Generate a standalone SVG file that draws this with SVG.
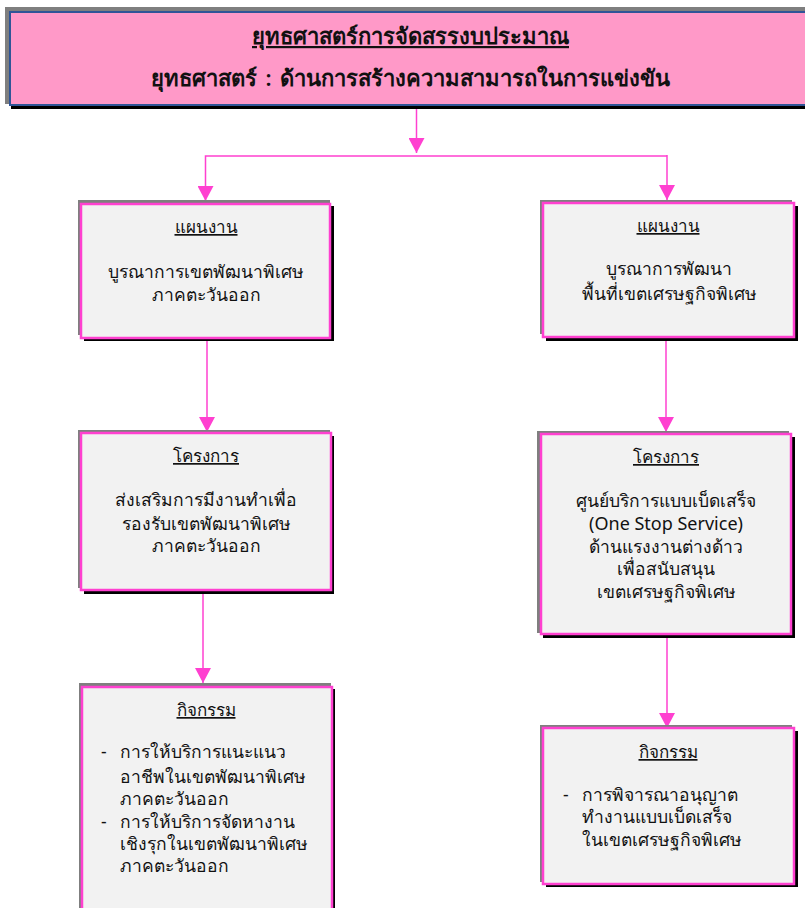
<svg xmlns="http://www.w3.org/2000/svg" width="805" height="908" viewBox="0 0 805 908">
<style>
text{font-family:"Noto Sans","DejaVu Sans","Liberation Sans",sans-serif;fill:#111;text-anchor:middle}
.t{font-size:22px;font-weight:600}
.b{font-size:17.500px}
.h{font-size:17px;text-decoration:underline}
.l{text-anchor:start}
.g{fill:#7f7f7f}
.k{fill:#000}
.f{fill:#f2f2f2;stroke:#ff40d0;stroke-width:2.5}
.c{fill:none;stroke:#ff40d0;stroke-width:1.5}
</style>
<defs>
<marker id="a" markerUnits="userSpaceOnUse" markerWidth="16" markerHeight="16" refX="15" refY="8" orient="auto"><path d="M0 0L15 8L0 16Z" fill="#ff40d0"/></marker>
</defs>
<g id="top">
<rect class="g" x="5" y="7" width="800" height="97"/><rect class="k" x="11" y="14" width="794" height="95"/>
<rect x="10" y="12" width="800" height="93" fill="#ff99c8" stroke="#2f5597" stroke-width="2"/>
<text class="t" x="410.500" y="44" text-decoration="underline">ยุทธศาสตร์การจัดสรรงบประมาณ</text>
<text class="t" x="410.500" y="86" word-spacing="2.500">ยุทธศาสตร์ : ด้านการสร้างความสามารถในการแข่งขัน</text>
</g>
<g id="connectors">
<path class="c" d="M416.500 109V153" marker-end="url(#a)"/>
<path class="c" d="M667 156H205.500V201" marker-end="url(#a)"/>
<path class="c" d="M667 155V200" marker-end="url(#a)"/>
<path class="c" d="M207 339V432" marker-end="url(#a)"/>
<path class="c" d="M666 337V432" marker-end="url(#a)"/>
<path class="c" d="M203 590V683" marker-end="url(#a)"/>
<path class="c" d="M667 636V728" marker-end="url(#a)"/>
</g>
<g id="plan-left">
<rect class="g" x="78" y="200" width="252" height="135"/><rect class="k" x="84" y="206" width="250" height="135"/>
<rect class="f" x="81" y="204" width="249" height="134"/>
<text class="h" x="206" y="233">แผนงาน</text>
<text class="b" x="206" y="278">บูรณาการเขตพัฒนาพิเศษ</text>
<text class="b" x="206" y="301">ภาคตะวันออก</text>
</g>
<g id="plan-right">
<rect class="g" x="540" y="200" width="252" height="134"/><rect class="k" x="546" y="206" width="252" height="135"/>
<rect class="f" x="543" y="203" width="251" height="134"/>
<text class="h" x="668" y="232">แผนงาน</text>
<text class="b" x="669" y="275">บูรณาการพัฒนา</text>
<text class="b" x="669" y="300">พื้นที่เขตเศรษฐกิจพิเศษ</text>
</g>
<g id="project-left">
<rect class="g" x="78" y="430" width="252" height="158"/><rect class="k" x="84" y="436" width="250" height="158"/>
<rect class="f" x="81" y="433" width="250" height="157"/>
<text class="h" x="206" y="462">โครงการ</text>
<text class="b" x="206" y="506">ส่งเสริมการมีงานทำเพื่อ</text>
<text class="b" x="206" y="530">รองรับเขตพัฒนาพิเศษ</text>
<text class="b" x="206" y="552">ภาคตะวันออก</text>
</g>
<g id="project-right">
<rect class="g" x="537" y="431" width="252" height="202"/><rect class="k" x="543" y="437" width="252" height="201"/>
<rect class="f" x="541" y="434" width="250" height="200"/>
<text class="h" x="666" y="463">โครงการ</text>
<text class="b" x="666" y="507">ศูนย์บริการแบบเบ็ดเสร็จ</text>
<text class="b" x="666" y="530" style="font-size:18px">(One Stop Service)</text>
<text class="b" x="666" y="553">ด้านแรงงานต่างด้าว</text>
<text class="b" x="666" y="575">เพื่อสนับสนุน</text>
<text class="b" x="666" y="598">เขตเศรษฐกิจพิเศษ</text>
</g>
<g id="activity-left">
<rect class="g" x="79" y="683" width="252" height="225"/><rect class="k" x="85" y="689" width="250" height="219"/>
<rect class="f" x="82" y="687" width="250" height="225"/>
<text class="h" x="206" y="716">กิจกรรม</text>
<text class="b l" x="101" y="758">-</text>
<text class="b l" x="120" y="758">การให้บริการแนะแนว</text>
<text class="b l" x="120" y="783">อาชีพในเขตพัฒนาพิเศษ</text>
<text class="b l" x="120" y="805">ภาคตะวันออก</text>
<text class="b l" x="101" y="828">-</text>
<text class="b l" x="120" y="828">การให้บริการจัดหางาน</text>
<text class="b l" x="120" y="850">เชิงรุกในเขตพัฒนาพิเศษ</text>
<text class="b l" x="120" y="872">ภาคตะวันออก</text>
</g>
<g id="activity-right">
<rect class="g" x="540" y="725" width="252" height="157"/><rect class="k" x="546" y="731" width="252" height="156"/>
<rect class="f" x="543" y="728" width="251" height="156"/>
<text class="h" x="668" y="758">กิจกรรม</text>
<text class="b l" x="563" y="801">-</text>
<text class="b l" x="582" y="801">การพิจารณาอนุญาต</text>
<text class="b l" x="582" y="823">ทำงานแบบเบ็ดเสร็จ</text>
<text class="b l" x="582" y="846">ในเขตเศรษฐกิจพิเศษ</text>
</g>
</svg>
